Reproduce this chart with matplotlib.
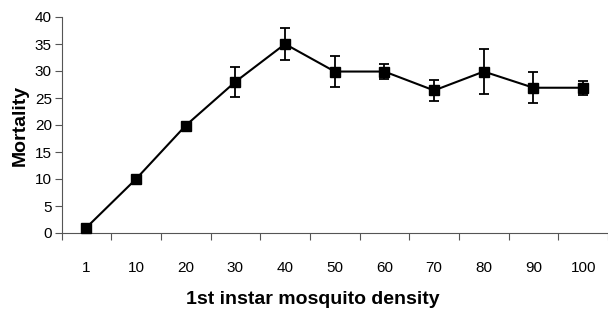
import matplotlib
matplotlib.use("Agg")
import matplotlib.pyplot as plt
import numpy as np

categories = ["1", "10", "20", "30", "40", "50", "60", "70", "80", "90", "100"]
mortality = [1.0, 10.0, 19.9, 28.0, 35.0, 29.9, 29.9, 26.4, 29.9, 26.9, 26.9]
errors = [0, 0, 0, 2.8, 2.9, 2.9, 1.4, 2.0, 4.2, 2.9, 1.3]

plt.rcParams['font.family'] = ['Liberation Sans', 'DejaVu Sans']

W, H = 608, 310
fig = plt.figure(figsize=(W/100, H/100), dpi=100)
ax = fig.add_axes([61.5/W, (H-233)/H, 1 - 61.5/W, (233-17)/H])

x = np.arange(len(categories))
ax.errorbar(x, mortality, yerr=errors, color='black', linewidth=1.5,
            marker='s', markersize=6.5, ecolor='black', elinewidth=1.3,
            capsize=3.5, capthick=1.3, clip_on=False, zorder=3)

ax.set_ylim(0, 40)
ax.set_yticks(range(0, 41, 5))
ax.set_xlim(-0.5, 10.42)
ax.set_xticks(x)
ax.set_xticklabels(categories)
ax.set_xticks(np.arange(-0.5, 11, 1), minor=True)
ax.tick_params(axis='x', which='major', length=0, pad=20, labelsize=11)
ax.tick_params(axis='x', which='minor', length=5, width=0.8, color='#555555')
ax.tick_params(axis='y', length=5, width=0.8, color='#555555', labelsize=11, pad=2)

for s in ['top', 'right']:
    ax.spines[s].set_visible(False)
for s in ['left', 'bottom']:
    ax.spines[s].set_color('#555555')
    ax.spines[s].set_linewidth(0.8)

ax.set_ylabel("Mortality", fontsize=14, fontweight='bold', labelpad=4)
ax.set_xlabel("1st instar mosquito density", fontsize=14, fontweight='bold')
ax.xaxis.set_label_coords((313 - 61.5) / (W - 61.5), -(300 - 233) / 216.0)
ax.xaxis.label.set_va('center')

fig.savefig("out.png", dpi=100)
